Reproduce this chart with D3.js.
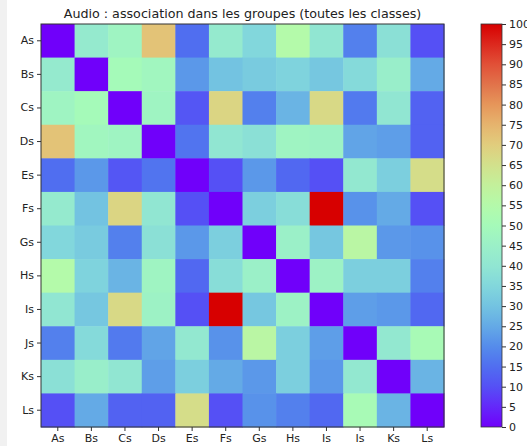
<!DOCTYPE html>
<head>
    <script src="https://d3js.org/d3.v7.min.js"></script>
</head>
<style>
body {
    margin: 0;
    background: #fff;
    font-family: "DejaVu Sans", Arial, sans-serif;
}
text { fill: #222; }
</style>
<body>
<svg></svg>
<script>

    // Data
    var rowLabels = ["As", "Bs", "Cs", "Ds", "Es", "Fs", "Gs", "Hs", "Is", "Js", "Ks", "Ls"];
    var colLabels = ["As", "Bs", "Cs", "Ds", "Es", "Fs", "Gs", "Hs", "Is", "Is", "Ks", "Ls"];
    var title = "Audio : association dans les groupes (toutes les classes)";
    var cbTicks = [0, 5, 10, 15, 20, 25, 30, 35, 40, 45, 50, 55, 60, 65, 70, 75, 80, 85, 90, 95, 100];

    var rowAs = [0, 42, 47, 72, 15, 42, 35, 55, 40, 18, 38, 10];
    var rowBs = [42, 0, 50, 48, 22, 30, 32, 34, 31, 36, 44, 25];
    var rowCs = [47, 50, 0, 47, 11, 68, 18, 27, 67, 17, 40, 13];
    var rowDs = [72, 48, 47, 0, 16, 40, 38, 47, 46, 24, 23, 13];
    var rowEs = [15, 22, 11, 16, 0, 10, 22, 14, 10, 41, 33, 66];
    var rowFs = [42, 30, 68, 40, 10, 0, 33, 37, 100, 21, 25, 10];
    var rowGs = [35, 32, 18, 38, 22, 33, 0, 45, 31, 57, 22, 21];
    var rowHs = [55, 34, 27, 47, 14, 37, 45, 0, 46, 33, 33, 18];
    var rowIs = [40, 31, 67, 46, 10, 100, 31, 46, 0, 23, 22, 14];
    var rowJs = [18, 36, 17, 24, 41, 21, 57, 33, 23, 0, 41, 51];
    var rowKs = [38, 44, 40, 23, 33, 25, 22, 33, 22, 41, 0, 27];
    var rowLs = [10, 25, 13, 13, 66, 10, 21, 18, 14, 51, 27, 0];
    var matrix = [rowAs, rowBs, rowCs, rowDs, rowEs, rowFs, rowGs, rowHs, rowIs, rowJs, rowKs, rowLs];

    var width = 527;
    var height = 446;
    var mLeft = 41, mTop = 24, size = 403;

    var svg = d3.select("svg").attr("width", width).attr("height", height);

    // faint grey strip on the left edge of the screenshot
    svg.append("rect").attr("x", 0).attr("y", 0).attr("width", 7).attr("height", height)
        .attr("fill", "#f1f1f1");

    // muted "rainbow" colour map, as it looks in the picture
    var cmapStops = ["#7000fa", "#6428fa", "#5550f5", "#506ef0", "#558ceb", "#64aae6",
        "#73c3e1", "#82d7dc", "#91e6d2", "#9bf0c8", "#a5fab9", "#b4faaa", "#c3f09b",
        "#d2e18c", "#e1cd7d", "#e6b46e", "#e6965a", "#e1734b", "#e15037", "#dc281e", "#d70000"];
    var color = d3.scaleLinear()
        .domain(cmapStops.map(function (c, i) { return i * 5; }))
        .range(cmapStops)
        .interpolate(d3.interpolateRgb)
        .clamp(true);

    var xScale = d3.scaleBand().domain(d3.range(12)).range([mLeft, mLeft + size]);
    var yScale = d3.scaleBand().domain(d3.range(12)).range([mTop, mTop + size]);

    var cells = svg.append("g");
    matrix.forEach(function (row, i) {
        cells.selectAll(null).data(row).enter().append("rect")
            .attr("x", function (d, j) { return xScale(j); })
            .attr("y", yScale(i))
            .attr("width", xScale.bandwidth() + 0.5)
            .attr("height", yScale.bandwidth() + 0.5)
            .attr("fill", function (d) { return color(d); });
    });

    svg.append("rect").attr("x", mLeft).attr("y", mTop).attr("width", size).attr("height", size)
        .attr("fill", "none").attr("stroke", "#333").attr("stroke-width", 1);

    // axes
    var xAxis = d3.axisBottom(xScale)
        .tickFormat(function (i) { return colLabels[i]; }).tickSize(4).tickPadding(3);
    var yAxis = d3.axisLeft(yScale)
        .tickFormat(function (i) { return rowLabels[i]; }).tickSize(4).tickPadding(3);

    var gx = svg.append("g").attr("transform", "translate(0," + (mTop + size) + ")").call(xAxis);
    var gy = svg.append("g").attr("transform", "translate(" + mLeft + ",0)").call(yAxis);
    [gx, gy].forEach(function (a) {
        a.select(".domain").remove();
        a.selectAll("line").attr("stroke", "#333");
        a.selectAll("text").style("font-size", "11px").style("font-family", "DejaVu Sans").attr("fill", "#222");
    });

    svg.append("text").attr("x", mLeft + size / 2).attr("y", 18)
        .attr("text-anchor", "middle").style("font-size", "12.7px").text(title);

    // colour bar
    var cbX = 481, cbW = 21;
    var cbScale = d3.scaleLinear().domain([0, 100]).range([mTop + size, mTop]);
    var defs = svg.append("defs");
    var grad = defs.append("linearGradient").attr("id", "cb")
        .attr("x1", 0).attr("y1", 1).attr("x2", 0).attr("y2", 0);
    d3.range(0, 101, 2).forEach(function (v) {
        grad.append("stop").attr("offset", v / 100).attr("stop-color", color(v));
    });
    svg.append("rect").attr("x", cbX).attr("y", mTop).attr("width", cbW).attr("height", size)
        .attr("fill", "url(#cb)").attr("stroke", "#333").attr("stroke-width", 0.8);

    var cbAxis = d3.axisRight(cbScale).tickValues(cbTicks).tickSize(4).tickPadding(3);
    var gc = svg.append("g").attr("transform", "translate(" + (cbX + cbW) + ",0)").call(cbAxis);
    gc.select(".domain").remove();
    gc.selectAll("line").attr("stroke", "#333");
    gc.selectAll("text").style("font-size", "11px").style("font-family", "DejaVu Sans").attr("fill", "#222");

</script>
</body>
